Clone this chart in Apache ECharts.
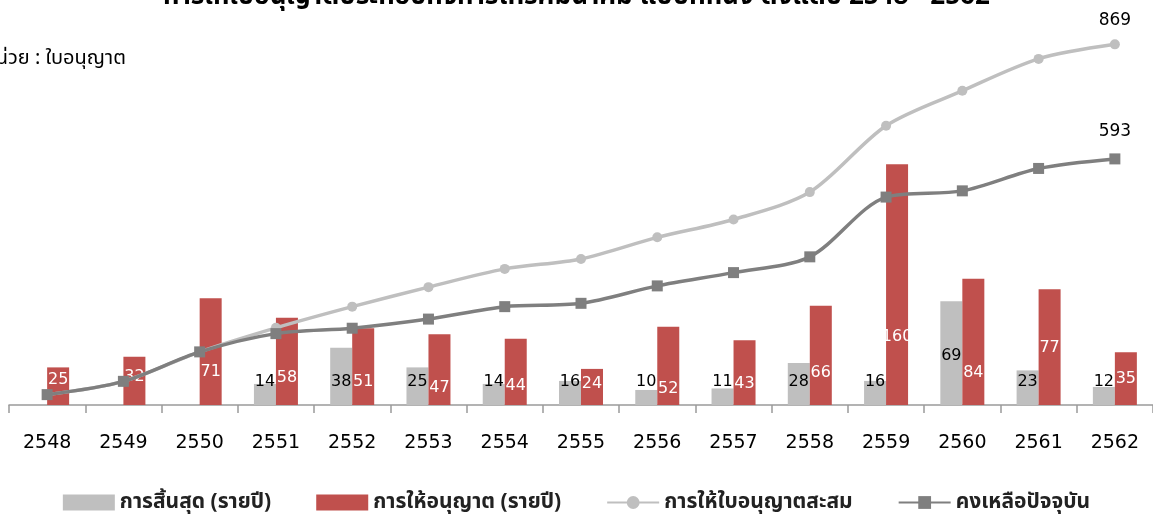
<!DOCTYPE html>
<html>
<head>
<meta charset="utf-8">
<script src="https://cdn.jsdelivr.net/npm/echarts@6/dist/echarts.min.js"></script>
<style>
html,body{margin:0;padding:0;background:#fff;}
#chart{width:1153px;height:519px;}
</style>
</head>
<body>
<div id="chart"></div>
<script>
// ---- data ----
var years = ['2548','2549','2550','2551','2552','2553','2554','2555','2556','2557','2558','2559','2560','2561','2562'];
var ended = [0, 0, 0, 14, 38, 25, 14, 16, 10, 11, 28, 16, 69, 23, 12];
var granted = [25, 32, 71, 58, 51, 47, 44, 24, 52, 43, 66, 160, 84, 77, 35];
var cumulative = [25, 57, 128, 186, 237, 284, 328, 352, 404, 447, 513, 673, 757, 834, 869];
var remaining = [25, 57, 128, 172, 185, 207, 237, 245, 287, 319, 357, 501, 516, 570, 593];
var seriesNames = ['การสิ้นสุด (รายปี)', 'การให้อนุญาต (รายปี)', 'การให้ใบอนุญาตสะสม', 'คงเหลือปัจจุบัน'];
var titleText = 'การให้ใบอนุญาตประกอบกิจการโทรคมนาคม แบบที่หนึ่ง ตั้งแต่ปี 2548 - 2562';
var unitText = 'หน่วย : ใบอนุญาต';

// ---- label placement tweaks (style only) ----
var greyRaise = {'2560': 26};
var redRaise = {'2548': 4, '2549': 7, '2550': 12, '2551': 6, '2552': 2, '2553': -4, '2554': -2, '2556': -5, '2558': 11, '2559': 47, '2560': 11, '2561': 36, '2562': 5};

var FONT = '"DejaVu Sans", Tahoma, Verdana, sans-serif';
var THAI = '"Noto Sans", "Noto Sans Thai", Tahoma, "DejaVu Sans", sans-serif';

var greyData = ended.map(function (v, i) {
  var r = greyRaise[years[i]] || 0;
  return { value: v, label: { offset: [0, -r] } };
});
var redData = granted.map(function (v, i) {
  var r = redRaise[years[i]] || 0;
  return { value: v, label: { offset: [0, -r] } };
});
var last = years.length - 1;

var chart = echarts.init(document.getElementById('chart'), null, { renderer: 'canvas' });
chart.setOption({
  animation: false,
  backgroundColor: '#ffffff',
  title: {
    text: titleText,
    left: 'center',
    top: -21,
    textStyle: { fontFamily: THAI, fontSize: 26, fontWeight: 'bold', color: '#000' }
  },
  graphic: [{
    type: 'text',
    left: -16,
    top: 48,
    style: { text: unitText, fontFamily: THAI, fontSize: 20, fill: '#000' }
  }],
  grid: { left: 9, right: -3, top: 29, bottom: 114, containLabel: false },
  legend: {
    top: 487,
    left: 'center',
    itemWidth: 52,
    itemHeight: 16,
    itemGap: 45,
    textStyle: { fontFamily: THAI, fontSize: 21, fontWeight: 'bold', color: '#222' },
    data: [
      { name: seriesNames[0], icon: 'rect' },
      { name: seriesNames[1], icon: 'rect' },
      { name: seriesNames[2] },
      { name: seriesNames[3] }
    ]
  },
  xAxis: {
    type: 'category',
    data: years,
    axisLine: { lineStyle: { color: '#9a9a9a', width: 1.5 } },
    axisTick: { show: true, length: 8, lineStyle: { color: '#9a9a9a', width: 1.5 } },
    axisLabel: { margin: 29, fontFamily: FONT, fontSize: 19, color: '#000' },
    splitLine: { show: false }
  },
  yAxis: [
    { type: 'value', min: 0, max: 250, show: false, splitLine: { show: false } },
    { type: 'value', min: 0, max: 906, show: false, splitLine: { show: false } }
  ],
  series: [
    {
      name: seriesNames[0], type: 'bar', yAxisIndex: 0, data: greyData,
      barWidth: 22, barGap: '0%',
      itemStyle: { color: '#bfbfbf' },
      label: {
        show: true, position: 'insideBottom', distance: 15,
        fontFamily: FONT, fontSize: 16, color: '#000',
        formatter: function (p) { return p.value ? p.value : ''; }
      }
    },
    {
      name: seriesNames[1], type: 'bar', yAxisIndex: 0, data: redData,
      barWidth: 22, barGap: '0%',
      itemStyle: { color: '#c0504d' },
      label: {
        show: true, position: 'insideBottom', distance: 13,
        fontFamily: FONT, fontSize: 16, color: '#fff'
      }
    },
    {
      name: seriesNames[2], type: 'line', yAxisIndex: 1, data: cumulative,
      smooth: 0.3, symbol: 'circle', symbolSize: 10,
      lineStyle: { color: '#bfbfbf', width: 3.5 },
      itemStyle: { color: '#bfbfbf' },
      label: {
        show: true, position: 'top', distance: 10,
        fontFamily: FONT, fontSize: 17, color: '#000',
        formatter: function (p) { return p.dataIndex === last ? p.value : ''; }
      },
      z: 3
    },
    {
      name: seriesNames[3], type: 'line', yAxisIndex: 1, data: remaining,
      smooth: 0.3, symbol: 'rect', symbolSize: 11,
      lineStyle: { color: '#7f7f7f', width: 3.5 },
      itemStyle: { color: '#7f7f7f' },
      label: {
        show: true, position: 'top', distance: 13,
        fontFamily: FONT, fontSize: 17, color: '#000',
        formatter: function (p) { return p.dataIndex === last ? p.value : ''; }
      },
      z: 4
    }
  ]
});
</script>
</body>
</html>
